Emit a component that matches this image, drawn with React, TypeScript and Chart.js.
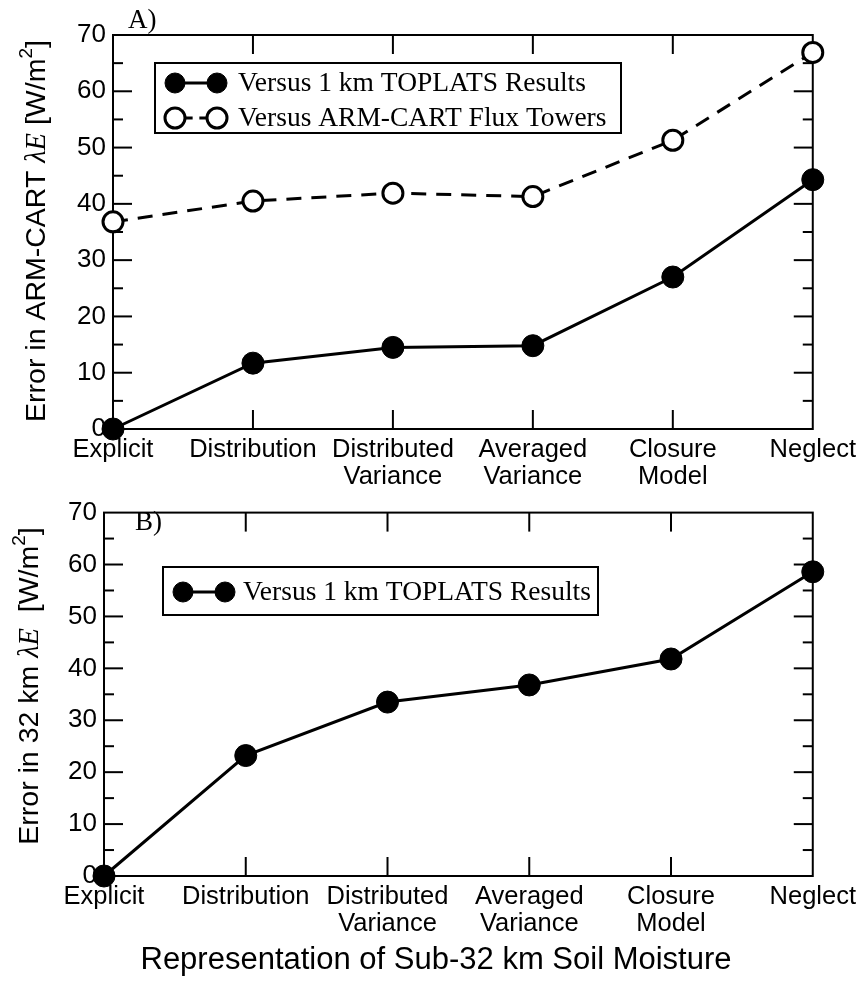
import React, { useEffect, useRef } from "react";
import { Chart, registerables } from "chart.js";

Chart.register(...registerables);

// ---------- data ----------
const categories: string[][] = [
  ["Explicit"],
  ["Distribution"],
  ["Distributed", "Variance"],
  ["Averaged", "Variance"],
  ["Closure", "Model"],
  ["Neglect"],
];
const yMin = 0;
const yMax = 70;
const yStep = 10;
const yMinorStep = 5;

const panelA_toplats = [0, 11.7, 14.5, 14.8, 27.0, 44.3];
const panelA_towers = [36.8, 40.5, 41.9, 41.3, 51.3, 66.9];
const panelB_toplats = [0, 23.2, 33.5, 36.8, 41.8, 58.6];

const legendToplats = "Versus 1 km TOPLATS Results";
const legendTowers = "Versus ARM-CART Flux Towers";
const xTitle = "Representation of Sub-32 km Soil Moisture";

// ---------- styles ----------
const SANS = "'Liberation Sans', Arial, Helvetica, sans-serif";
const SERIF = "'Liberation Serif', 'Times New Roman', Times, serif";

type Seg = { text: string; font: string; rise?: number };

function drawRichRotated(ctx: CanvasRenderingContext2D, segs: Seg[], bx: number, cy: number) {
  ctx.save();
  ctx.translate(bx, cy);
  ctx.rotate(-Math.PI / 2);
  ctx.textBaseline = "alphabetic";
  ctx.textAlign = "left";
  ctx.fillStyle = "#000";
  let total = 0;
  const widths = segs.map((s) => {
    ctx.font = s.font;
    const w = ctx.measureText(s.text).width;
    total += w;
    return w;
  });
  let x = -total / 2;
  segs.forEach((s, i) => {
    ctx.font = s.font;
    ctx.fillText(s.text, x, -(s.rise || 0));
    x += widths[i];
  });
  ctx.restore();
}

function line(ctx: CanvasRenderingContext2D, x1: number, y1: number, x2: number, y2: number) {
  ctx.beginPath();
  ctx.moveTo(x1, y1);
  ctx.lineTo(x2, y2);
  ctx.stroke();
}

const decorPlugin = {
  id: "decor",
  beforeDatasetsDraw(chart: any, _args: any, o: any) {
    const { ctx, chartArea: a, scales } = chart;
    ctx.save();
    ctx.strokeStyle = "#000";
    ctx.lineWidth = 2;
    ctx.strokeRect(a.left, a.top, a.right - a.left, a.bottom - a.top);
    for (let v = yMin + yMinorStep; v < yMax; v += yMinorStep) {
      const y = scales.y.getPixelForValue(v);
      const len = v % yStep === 0 ? 19 : 10;
      line(ctx, a.left, y, a.left + len, y);
      line(ctx, a.right, y, a.right - len, y);
    }
    for (let i = 1; i < categories.length - 1; i++) {
      const x = scales.x.getPixelForValue(i);
      line(ctx, x, a.bottom, x, a.bottom - 19);
      line(ctx, x, a.top, x, a.top + 19);
    }
    ctx.restore();
  },
  afterDraw(chart: any, _args: any, o: any) {
    const { ctx } = chart;
    ctx.save();
    // y title
    drawRichRotated(ctx, o.yTitle.segs, o.yTitle.x, o.yTitle.cy);
    // panel label
    ctx.fillStyle = "#000";
    ctx.font = `27px ${SERIF}`;
    ctx.textBaseline = "alphabetic";
    ctx.textAlign = "left";
    ctx.fillText(o.panel.text, o.panel.x, o.panel.y);
    // legend
    const L = o.legend;
    ctx.fillStyle = "#fff";
    ctx.fillRect(L.x, L.y, L.w, L.h);
    ctx.strokeStyle = "#000";
    ctx.lineWidth = 2;
    ctx.strokeRect(L.x, L.y, L.w, L.h);
    L.rows.forEach((r: any) => {
      const ds = chart.data.datasets[r.ds];
      ctx.strokeStyle = "#000";
      ctx.lineWidth = 3;
      ctx.setLineDash([]);
      if (ds.borderDash && ds.borderDash.length) {
        const d = L.c2 - L.c1;
        line(ctx, L.c1, r.y, L.c1 + d * 0.42, r.y);
        line(ctx, L.c2 - d * 0.42, r.y, L.c2, r.y);
      } else {
        line(ctx, L.c1, r.y, L.c2, r.y);
      }
      [L.c1, L.c2].forEach((cx: number) => {
        ctx.beginPath();
        ctx.arc(cx, r.y, L.r, 0, Math.PI * 2);
        ctx.fillStyle = ds.pointBackgroundColor;
        ctx.fill();
        ctx.lineWidth = ds.pointBorderWidth;
        ctx.strokeStyle = "#000";
        ctx.stroke();
      });
      ctx.fillStyle = "#000";
      ctx.font = `27.5px ${SERIF}`;
      ctx.textBaseline = "middle";
      ctx.textAlign = "left";
      ctx.fillText(r.text, L.tx, r.y + 1);
    });
    // x title
    if (o.xTitle) {
      ctx.fillStyle = "#000";
      ctx.font = `31px ${SANS}`;
      ctx.textAlign = "center";
      ctx.textBaseline = "middle";
      ctx.fillText(o.xTitle.text, o.xTitle.x, o.xTitle.y);
    }
    ctx.restore();
  },
};

function solidDs(data: number[]) {
  return {
    data,
    borderColor: "#000",
    borderWidth: 3,
    pointRadius: 11,
    pointBackgroundColor: "#000",
    pointBorderColor: "#000",
    pointBorderWidth: 1,
    tension: 0,
    clip: false as any,
  };
}
function dashedDs(data: number[]) {
  return {
    data,
    borderColor: "#000",
    borderWidth: 3,
    borderDash: [15, 10],
    pointRadius: 10,
    pointBackgroundColor: "#fff",
    pointBorderColor: "#000",
    pointBorderWidth: 3,
    tension: 0,
    clip: false as any,
  };
}

function buildConfig(p: any) {
  return {
    type: "line" as const,
    data: { labels: categories, datasets: p.datasets },
    options: {
      animation: false as const,
      responsive: false,
      layout: { padding: { top: p.padTop, right: p.padRight, left: 0, bottom: 0 } },
      plugins: {
        legend: { display: false },
        tooltip: { enabled: false },
        decor: p.decor,
      },
      scales: {
        x: {
          type: "category" as const,
          offset: false,
          ticks: {
            color: "#000",
            font: { family: SANS, size: 25.5, lineHeight: 1.08 },
            maxRotation: 0,
            minRotation: 0,
            autoSkip: false,
            padding: 7,
          },
          grid: { display: false, drawTicks: false },
          border: { display: false },
          afterFit: (s: any) => {
            s.height = p.xAxisHeight;
          },
        },
        y: {
          min: yMin,
          max: yMax,
          ticks: {
            stepSize: yStep,
            color: "#000",
            font: { family: SANS, size: 26 },
            padding: 7,
          },
          grid: { display: false, drawTicks: false },
          border: { display: false },
          afterFit: (s: any) => {
            s.width = p.yAxisWidth;
          },
        },
      },
    },
    plugins: [decorPlugin],
  };
}

const configA = buildConfig({
  datasets: [solidDs(panelA_toplats), dashedDs(panelA_towers)],
  padTop: 35,
  padRight: 46,
  yAxisWidth: 113,
  xAxisHeight: 61,
  decor: {
    yTitle: {
      x: 45,
      cy: 231,
      segs: [
        { text: "Error in ARM-CART ", font: `28.5px ${SANS}` },
        { text: "λE", font: `italic 28.5px ${SERIF}` },
        { text: " [W/m", font: `28.5px ${SANS}` },
        { text: "2", font: `19px ${SANS}`, rise: 13 },
        { text: "]", font: `28.5px ${SANS}` },
      ],
    },
    panel: { text: "A)", x: 128, y: 28 },
    legend: {
      x: 155,
      y: 63,
      w: 466,
      h: 70,
      c1: 175,
      c2: 217,
      r: 10,
      tx: 238,
      rows: [
        { ds: 0, y: 83, text: legendToplats },
        { ds: 1, y: 118, text: legendTowers },
      ],
    },
  },
});

const configB = buildConfig({
  datasets: [solidDs(panelB_toplats)],
  padTop: 7,
  padRight: 50,
  yAxisWidth: 104,
  xAxisHeight: 115,
  decor: {
    yTitle: {
      x: 38,
      cy: 196,
      segs: [
        { text: "Error in 32 km ", font: `28.5px ${SANS}` },
        { text: "λE", font: `italic 28.5px ${SERIF}` },
        { text: "  [W/m", font: `28.5px ${SANS}` },
        { text: "2", font: `19px ${SANS}`, rise: 13 },
        { text: "]", font: `28.5px ${SANS}` },
      ],
    },
    panel: { text: "B)", x: 135, y: 40 },
    legend: {
      x: 163,
      y: 77,
      w: 435,
      h: 48,
      c1: 183,
      c2: 225,
      r: 10,
      tx: 243,
      rows: [{ ds: 0, y: 102, text: legendToplats }],
    },
    xTitle: { text: xTitle, x: 436, y: 470 },
  },
});

export default function App() {
  const refA = useRef<HTMLCanvasElement>(null);
  const refB = useRef<HTMLCanvasElement>(null);
  useEffect(() => {
    const a = new Chart(refA.current as HTMLCanvasElement, configA as any);
    const b = new Chart(refB.current as HTMLCanvasElement, configB as any);
    return () => {
      a.destroy();
      b.destroy();
    };
  }, []);
  return (
    <div style={{ position: "absolute", left: 0, top: 0, width: 863, height: 991, background: "#fff" }}>
      <canvas
        ref={refA}
        width={863}
        height={490}
        style={{ position: "absolute", left: 0, top: 0, width: 863, height: 490 }}
      />
      <canvas
        ref={refB}
        width={863}
        height={501}
        style={{ position: "absolute", left: 0, top: 490, width: 863, height: 501 }}
      />
    </div>
  );
}
